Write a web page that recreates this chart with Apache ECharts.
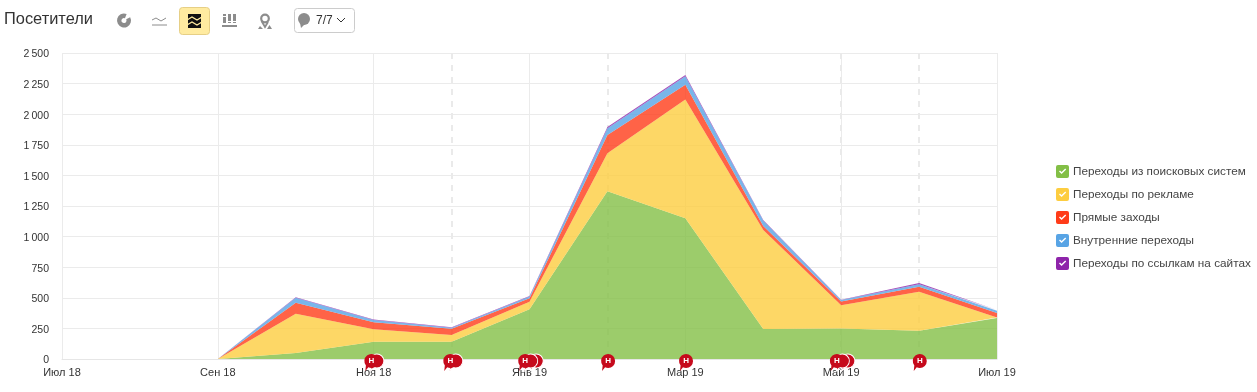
<!DOCTYPE html>
<html><head><meta charset="utf-8">
<style>html,body{margin:0;padding:0;background:#fff}#c{width:1257px;height:392px}</style>
<script src="https://cdn.jsdelivr.net/npm/echarts@6/dist/echarts.min.js"></script>
</head><body><div id="c"></div>
<script>
const months = ['Июл 18','Авг 18','Сен 18','Окт 18','Ноя 18','Дек 18','Янв 19','Фев 19','Мар 19','Апр 19','Май 19','Июн 19','Июл 19'];
const search   = [0,0,0,50,141,141,406,1370,1150,245,250,230,335];
const ads      = [0,0,0,320,102,55,62,310,970,809,190,320,5];
const direct   = [0,0,0,90,57,52,28,150,120,33,30,40,35];
const internal = [0,0,0,41,18,8,14,55,70,45,12,20,19];
const links    = [0,0,0,4,5,3,5,10,10,3,3,10,6];
const seriesNames = ['Переходы из поисковых систем','Переходы по рекламе','Прямые заходы','Внутренние переходы','Переходы по ссылкам на сайтах'];
const seriesColors = ['#83bf46','#fdcd40','#ff3c19','#58a4e5','#8e24aa'];
const dashedMonths = ['Дек 18','Фев 19','Май 19','Июн 19'];
// annotation pins: month and number of overlapping bubbles
const pinMonths = ['Ноя 18','Дек 18','Янв 19','Фев 19','Мар 19','Май 19','Июн 19'];
const pinCounts = [2,2,3,1,1,3,1];
const pinShift  = [-2.3,-1.3,-4.3,0.7,0.7,-4.3,0.7];

const FONT = '"Liberation Sans", Arial, sans-serif';
const checkIcon = 'path://M2 0H11A2 2 0 0 1 13 2V11A2 2 0 0 1 11 13H2A2 2 0 0 1 0 11V2A2 2 0 0 1 2 0Z M3 6.4L5.6 9L10.2 4.4L9.2 3.4L5.6 7L4 5.4Z';
const pinPath = 'path://M7 0A7 7 0 1 1 4 13.3L1 17L1.6 11.4A7 7 0 0 1 7 0Z';

const pinData = [];
pinMonths.forEach((m,i)=>{
  for(let k=pinCounts[i]-1;k>=0;k--){
    pinData.push({
      value:[m,0],
      symbolOffset:[pinShift[i]+k*5.5,3.5],
      itemStyle:{borderColor:'#fff',borderWidth:k?1:0},
      label:{show:k===0}
    });
  }
});

const gray='#8c8c8c';
const toolbar=[
 {type:'text',left:4,top:11,style:{text:'Посетители',font:'16.4px '+FONT,fill:'#333'}},
 {type:'sector',shape:{cx:124,cy:20.5,r:7,r0:2.5,startAngle:-0.5,endAngle:5.1},style:{fill:gray}},
 {type:'polyline',shape:{points:[[152,20],[156,18],[161,21],[166,18]]},style:{stroke:gray,fill:null,lineWidth:1}},
 {type:'line',shape:{x1:152,y1:25,x2:167,y2:25},style:{stroke:gray,lineWidth:1}},
 {type:'rect',shape:{x:179.5,y:7.5,width:30,height:27,r:3},style:{fill:'#ffeba0',stroke:'#e6cf86',lineWidth:1}},
 {type:'rect',shape:{x:188,y:14,width:13,height:14},style:{fill:'#111'}},
 {type:'polyline',shape:{points:[[187,20],[192,17],[197,20],[202,17]]},style:{stroke:'#ffeba0',fill:null,lineWidth:1.4}},
 {type:'polyline',shape:{points:[[187,25],[192,22],[197,25],[202,22]]},style:{stroke:'#ffeba0',fill:null,lineWidth:1.4}},
 {type:'rect',shape:{x:223,y:17,width:3,height:6},style:{fill:gray}},
 {type:'rect',shape:{x:223,y:14,width:3,height:2},style:{fill:gray}},
 {type:'rect',shape:{x:228,y:14,width:3,height:7},style:{fill:gray}},
 {type:'rect',shape:{x:228,y:22,width:3,height:1},style:{fill:gray}},
 {type:'rect',shape:{x:233,y:14,width:3,height:7},style:{fill:gray}},
 {type:'rect',shape:{x:233,y:22,width:3,height:1},style:{fill:gray}},
 {type:'rect',shape:{x:222,y:25,width:15,height:2},style:{fill:gray}},
 {type:'circle',shape:{cx:265,cy:18.5,r:3.8},style:{fill:'#fff',stroke:gray,lineWidth:2.2}},
 {type:'polyline',shape:{points:[[261.5,21],[265,27],[268,22]]},style:{stroke:gray,fill:null,lineWidth:1.8}},
 {type:'polygon',shape:{points:[[267,29],[269.5,25],[272,29]]},style:{fill:gray}},
 {type:'polygon',shape:{points:[[258,29],[260,26],[263,29]]},style:{fill:gray}},
 {type:'rect',shape:{x:294.5,y:8.5,width:60,height:24,r:3},style:{fill:'#fff',stroke:'#ccc',lineWidth:1}},
 {type:'circle',shape:{cx:304,cy:19,r:6},style:{fill:gray}},
 {type:'polygon',shape:{points:[[300,23],[301,28],[305,24]]},style:{fill:gray}},
 {type:'text',left:316,top:15,style:{text:'7/7',font:'12px '+FONT,fill:'#333'}},
 {type:'polyline',shape:{points:[[337,18],[341,22],[345,18]]},style:{stroke:'#333',fill:null,lineWidth:1}}
];

const values=[search,ads,direct,internal,links];
const series=values.map((d,i)=>({
  name:seriesNames[i],type:'line',stack:'all',data:d,symbol:'none',silent:true,
  lineStyle:{width:0},itemStyle:{color:seriesColors[i]},
  areaStyle:{color:seriesColors[i],opacity:0.8},
  z:2,
  markLine:i===0?{silent:true,symbol:'none',label:{show:false},animation:false,z:1,
    lineStyle:{color:'#eaeaea',type:[6,6],width:2,opacity:1},
    data:dashedMonths.map(m=>({xAxis:m}))}:undefined
}));
series.push({
  type:'scatter',data:pinData,symbol:pinPath,symbolSize:[14,17],clip:false,z:5,silent:true,
  itemStyle:{color:'#c60a1c',opacity:1},
  label:{show:true,position:'inside',formatter:()=>'Н',color:'#fff',fontSize:8,fontWeight:'bold',fontFamily:FONT,offset:[0,-1.5]}
});

const chart=echarts.init(document.getElementById('c'),null,{renderer:'canvas'});
chart.setOption({
  animation:false,
  backgroundColor:'#fff',
  textStyle:{fontFamily:FONT},
  graphic:toolbar,
  grid:{left:62,right:260,top:53,bottom:33,containLabel:false},
  legend:{
    orient:'vertical',left:1056,top:165,padding:0,itemWidth:13,itemHeight:13,itemGap:10,
    icon:checkIcon,selectedMode:false,
    data:seriesNames.map((n,i)=>({name:n,itemStyle:{color:seriesColors[i],opacity:1}})),
    textStyle:{fontFamily:FONT,fontSize:11.75,color:'#444',padding:[0,0,0,-1]}
  },
  xAxis:{
    type:'category',boundaryGap:false,data:months,
    axisTick:{show:false},axisLine:{lineStyle:{color:'#e6e6e6'}},
    axisLabel:{interval:1,color:'#333',fontSize:11,fontFamily:FONT,margin:8,hideOverlap:false,showMinLabel:true,showMaxLabel:true,alignMinLabel:'center',alignMaxLabel:'center'},
    splitLine:{show:true,interval:1,lineStyle:{color:'#ebebeb',width:1}}
  },
  yAxis:{
    type:'value',min:0,max:2500,interval:250,
    axisLine:{show:false},axisTick:{show:false},
    axisLabel:{margin:13,
      formatter:v=>'{t|'+String(v).replace(/\B(?=(\d{3})+$)/g,'\u2009')+'}',
      rich:{t:{color:'#333',fontSize:10.5,fontFamily:FONT,padding:[3,0,0,0]}}},
    splitLine:{lineStyle:{color:'#ebebeb',width:1}}
  },
  series
});
</script></body></html>
